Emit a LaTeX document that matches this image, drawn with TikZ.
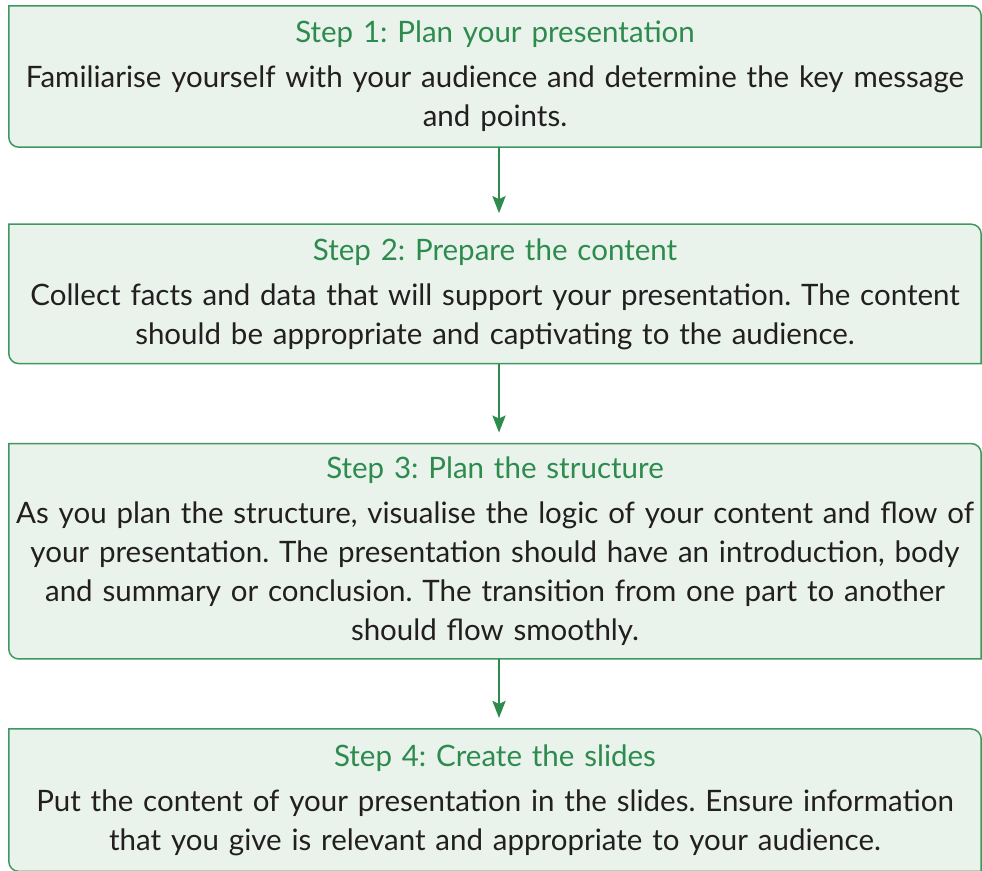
\documentclass[tikz,border=0pt]{standalone}
\usepackage{fontspec}
\setmainfont{Lato}
\usetikzlibrary{arrows.meta, positioning, backgrounds}
\definecolor{stepgreen}{RGB}{46,139,78}
\definecolor{stepline}{RGB}{62,152,96}
\definecolor{stepfill}{RGB}{233,243,236}
\definecolor{steptext}{RGB}{35,31,32}
\newcommand{\steptitle}[1]{{\color{stepgreen}#1}\\[6pt]}
\frenchspacing

\begin{document}
\begin{tikzpicture}[x=1pt, y=1pt,
  stepbox/.style={text width=972pt, minimum width=972pt, align=center,
                  inner sep=0pt, text=steptext,
                  font=\fontsize{29.5}{39}\selectfont},
  arr/.style={-{Stealth[width=13pt, length=17pt, inset=3pt]},
              line width=2.7pt, stepgreen, shorten >=11pt}
]
\useasboundingbox (0,0) rectangle (982,870);
\node[stepbox, minimum height=141pt] (s1) at (495,793.5)
  {\steptitle{Step 1: Plan your presentation}
   Familiarise yourself with your audience and determine the key message\\
   and points.};
\node[stepbox, minimum height=139pt, below=77pt of s1] (s2)
  {\steptitle{Step 2: Prepare the content}
   Collect facts and data that will support your presentation. The content\\
   should be appropriate and captivating to the audience.};
\node[stepbox, minimum height=215pt, below=80pt of s2] (s3)
  {\steptitle{Step 3: Plan the structure}
   As you plan the structure, visualise the logic of your content and flow of\\
   your presentation. The presentation should have an introduction, body\\
   and summary or conclusion. The transition from one part to another\\
   should flow smoothly.};
\node[stepbox, minimum height=142pt, below=70pt of s3] (s4)
  {\steptitle{Step 4: Create the slides}
   Put the content of your presentation in the slides. Ensure information\\
   that you give is relevant and appropriate to your audience.};
% box outlines: square top-left and bottom-right corners
\begin{scope}[on background layer]
\foreach \n in {s1,s2,s3,s4}
  \draw[line width=1.5pt, stepline, fill=stepfill]
    (\n.north west) -- ([xshift=-10pt]\n.north east)
    arc[start angle=90, end angle=0, radius=10pt] -- (\n.south east)
    -- ([xshift=10pt]\n.south west)
    arc[start angle=270, end angle=180, radius=10pt] -- cycle;
\end{scope}
\draw[arr] ([xshift=4pt]s1.south) -- ([xshift=4pt]s2.north);
\draw[arr] ([xshift=4pt]s2.south) -- ([xshift=4pt]s3.north);
\draw[arr] ([xshift=4pt]s3.south) -- ([xshift=4pt]s4.north);
\end{tikzpicture}
\end{document}
